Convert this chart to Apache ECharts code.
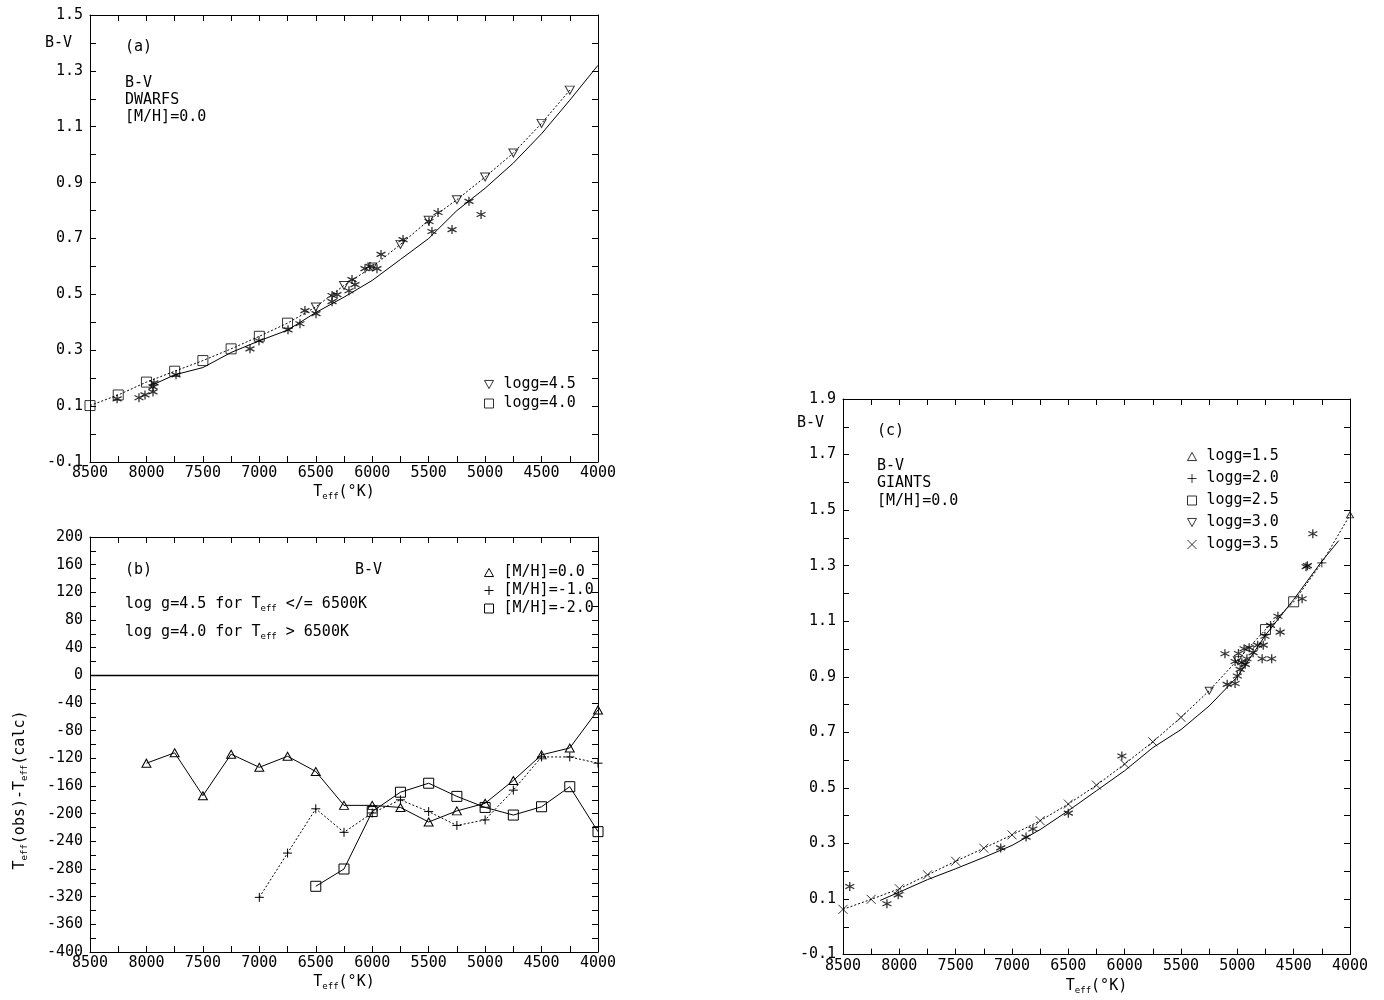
<!DOCTYPE html>
<html>
<head>
<meta charset="utf-8">
<script src="https://cdn.jsdelivr.net/npm/echarts@6/dist/echarts.min.js"></script>
<style>
html, body { margin: 0; padding: 0; background: #fff; }
#main { width: 1384px; height: 1000px; }
</style>
</head>
<body>
<div id="main"></div>
<script>
// (a) dwarfs: model track (dotted), logg per point
var aDotT = [8500, 8250, 8000, 7750, 7500, 7250, 7000, 6750, 6500, 6250, 6000, 5750, 5500, 5250, 5000, 4750, 4500, 4250];
var aDotV = [0.102, 0.14, 0.186, 0.225, 0.263, 0.305, 0.35, 0.397, 0.455, 0.532, 0.598, 0.679, 0.765, 0.839, 0.92, 1.006, 1.112, 1.231];
var aDotLogg = [4.0, 4.0, 4.0, 4.0, 4.0, 4.0, 4.0, 4.0, 4.5, 4.5, 4.5, 4.5, 4.5, 4.5, 4.5, 4.5, 4.5, 4.5];
// (a) solid relation
var aSolidT = [7950, 7750, 7500, 7250, 7000, 6750, 6500, 6250, 6000, 5750, 5500, 5250, 5000, 4750, 4500, 4250, 4000];
var aSolidV = [0.175, 0.212, 0.238, 0.292, 0.334, 0.372, 0.435, 0.49, 0.55, 0.625, 0.70, 0.80, 0.88, 0.97, 1.075, 1.195, 1.32];
// (a) observed stars
var aObsT = [8260, 8066, 8013, 7942, 7942, 7933, 7738, 7083, 7003, 6746, 6640, 6596, 6498, 6356, 6356, 6312, 6206, 6179, 6153, 6064, 6020, 5958, 5922, 5727, 5497, 5471, 5417, 5293, 5143, 5036];
var aObsV = [0.126, 0.130, 0.140, 0.151, 0.169, 0.183, 0.212, 0.305, 0.334, 0.373, 0.395, 0.442, 0.431, 0.496, 0.474, 0.499, 0.513, 0.553, 0.535, 0.592, 0.600, 0.592, 0.643, 0.696, 0.761, 0.725, 0.793, 0.732, 0.833, 0.786];

// (b) residuals
var bT0 = [8000, 7750, 7500, 7250, 7000, 6750, 6500, 6250, 6000, 5750, 5500, 5250, 5000, 4750, 4500, 4250, 4000];
var bV0 = [-127, -112, -174, -114, -133, -117, -139, -188, -188, -191, -212, -196, -185, -152, -115, -105, -50];
var bT1 = [7000, 6750, 6500, 6250, 6000, 5750, 5500, 5250, 5000, 4750, 4500, 4250, 4000];
var bV1 = [-321, -257, -193, -227, -199, -180, -197, -217, -209, -166, -118, -118, -127];
var bT2 = [6500, 6250, 6000, 5750, 5500, 5250, 5000, 4750, 4500, 4250, 4000];
var bV2 = [-305, -280, -197, -169, -156, -175, -191, -202, -190, -161, -226];

// (c) giants
var cDotT = [8500, 8250, 8000, 7750, 7500, 7250, 7000, 6750, 6500, 6250, 6000, 5750, 5500, 5250, 5000, 4750, 4500, 4250, 4000];
var cDotV = [0.063, 0.099, 0.137, 0.187, 0.236, 0.283, 0.331, 0.382, 0.442, 0.51, 0.586, 0.666, 0.754, 0.85, 0.96, 1.07, 1.17, 1.31, 1.483];
var cDotLogg = [3.5, 3.5, 3.5, 3.5, 3.5, 3.5, 3.5, 3.5, 3.5, 3.5, 3.5, 3.5, 3.5, 3.0, 3.0, 2.5, 2.5, 2.0, 1.5];
var cSolidT = [8170, 8000, 7750, 7500, 7250, 7000, 6750, 6500, 6250, 6000, 5750, 5500, 5250, 5000, 4750, 4500, 4250, 4100];
var cSolidV = [0.095, 0.125, 0.17, 0.209, 0.25, 0.293, 0.35, 0.418, 0.49, 0.562, 0.645, 0.71, 0.795, 0.90, 1.05, 1.178, 1.316, 1.39];
var cObsT = [8440, 8110, 8010, 7100, 6875, 6815, 6500, 6025, 5110, 5090, 5020, 5000, 4975, 5020, 4960, 4930, 4990, 4940, 4895, 4860, 4915, 4820, 4770, 4780, 4695, 4755, 4705, 4640, 4620, 4425, 4390, 4378, 4330];
var cObsV = [0.145, 0.083, 0.115, 0.284, 0.323, 0.352, 0.409, 0.615, 0.983, 0.873, 0.876, 0.903, 0.927, 0.955, 0.951, 0.945, 0.984, 1.001, 1.005, 0.987, 0.965, 1.014, 1.014, 0.965, 0.965, 1.046, 1.085, 1.118, 1.061, 1.181, 1.296, 1.30, 1.415];

var FONT = 'DejaVu Sans Mono';
var SYM_AST = 'path://M5,0L5,10M0.67,2.5L9.33,7.5M0.67,7.5L9.33,2.5';
var SYM_PLUS = 'path://M5,0L5,10M0,5L10,5';
var SYM_CROSS = 'path://M0,0L10,10M0,10L10,0';
var SYM_TRI_UP = 'path://M5,0L10,9L0,9Z';
var SYM_TRI_DN = 'path://M0,0L10,0L5,9Z';
var SYM_SQ = 'path://M0,0L10,0L10,10L0,10Z';
var open = { color: 'none', borderColor: '#000', borderWidth: 1 };

function pairs(t, v) {
    return t.map(function (x, i) { return [x, v[i]]; });
}
function pick(t, v, g, want) {
    var out = [];
    t.forEach(function (x, i) { if (g[i] === want) out.push([x, v[i]]); });
    return out;
}
var sub = {
    n: { fontFamily: FONT, fontSize: 15, color: '#000', lineHeight: 18 },
    s: { fontFamily: FONT, fontSize: 9, color: '#000', lineHeight: 9, verticalAlign: 'bottom' }
};

function xAx(gi, top) {
    return {
        gridIndex: gi, type: 'value', position: top ? 'top' : 'bottom',
        min: 4000, max: 8500, interval: 250, inverse: true,
        axisLine: { show: true, onZero: false, lineStyle: { color: '#000', width: 1 } },
        axisTick: { show: true, inside: true, length: 6, lineStyle: { color: '#000' } },
        splitLine: { show: false },
        axisLabel: top ? { show: false } : {
            show: true, margin: 4, fontFamily: FONT, fontSize: 15, color: '#000',
            formatter: function (v) { return v % 500 === 0 ? String(v) : ''; }
        },
        name: top ? '' : '{n|T}{s|eff}{n|(°K)}',
        nameLocation: 'middle', nameGap: 21,
        nameTextStyle: { rich: sub }
    };
}
function yAx(gi, right, min, max, step, fmt) {
    return {
        gridIndex: gi, type: 'value', position: right ? 'right' : 'left',
        min: min, max: max, interval: step,
        axisLine: { show: true, onZero: false, lineStyle: { color: '#000', width: 1 } },
        axisTick: { show: true, inside: true, length: 6, lineStyle: { color: '#000' } },
        splitLine: { show: false },
        axisLabel: right ? { show: false } : {
            show: true, margin: 7, fontFamily: FONT, fontSize: 15, color: '#000', formatter: fmt
        }
    };
}
function oddTenths(v) {
    var k = Math.round(v * 10);
    return k % 2 !== 0 ? (k / 10).toFixed(1) : '';
}
function every40(v) {
    var k = Math.round(v);
    return k % 40 === 0 ? String(k) : '';
}
function label(text, x, y, size) {
    return {
        type: 'text', x: x, y: y, silent: true,
        style: { text: text, fontFamily: FONT, fontSize: size || 15, fill: '#000', verticalAlign: 'middle', rich: sub }
    };
}
function legend(names, left, top, gap) {
    return {
        data: names, left: left, top: top, orient: 'vertical', itemGap: gap,
        itemWidth: 9, itemHeight: 9, selectedMode: false,
        itemStyle: { color: 'none', borderColor: '#000', borderWidth: 1 },
        lineStyle: { width: 0 },
        textStyle: { fontFamily: FONT, fontSize: 15, color: '#000', padding: [0, 0, 0, 5] }
    };
}

var chart = echarts.init(document.getElementById('main'));
var option = {
    backgroundColor: '#fff',
    animation: false,
    grid: [
        { left: 90, top: 15, width: 508, height: 447 },
        { left: 90, top: 537, width: 508, height: 415 },
        { left: 843, top: 399, width: 507, height: 557 }
    ],
    xAxis: [xAx(0), xAx(1), xAx(2), xAx(0, true), xAx(1, true), xAx(2, true)],
    yAxis: [
        yAx(0, false, -0.1, 1.5, 0.1, oddTenths),
        yAx(1, false, -400, 200, 20, every40),
        yAx(2, false, -0.1, 1.9, 0.1, oddTenths),
        yAx(0, true, -0.1, 1.5, 0.1),
        yAx(1, true, -400, 200, 20),
        yAx(2, true, -0.1, 1.9, 0.1)
    ],
    legend: [
        legend(['logg=4.5', 'logg=4.0'], 477, 372, 4),
        legend([
            { name: '[M/H]=0.0', icon: SYM_TRI_UP },
            { name: '[M/H]=-1.0', icon: SYM_PLUS },
            { name: '[M/H]=-2.0', icon: SYM_SQ }
        ], 477, 560, 3),
        legend(['logg=1.5', 'logg=2.0', 'logg=2.5', 'logg=3.0', 'logg=3.5'], 1180, 444, 7)
    ],
    graphic: [
        label('B-V', 45, 43),
        label('(a)', 125, 47),
        label('B-V', 125, 83),
        label('DWARFS', 125, 100),
        label('[M/H]=0.0', 125, 117),
        label('(b)', 125, 570),
        label('B-V', 355, 570),
        label('{n|log g=4.5 for T}{s|eff}{n| </= 6500K}', 125, 604),
        label('{n|log g=4.0 for T}{s|eff}{n| > 6500K}', 125, 632),
        {
            type: 'text', x: 20, y: 790, rotation: Math.PI / 2, silent: true,
            style: {
                text: '{n|T}{s|eff}{n|(obs)-T}{s|eff}{n|(calc)}', align: 'center', verticalAlign: 'middle',
                rich: {
                    n: { fontFamily: FONT, fontSize: 15, color: '#000', lineHeight: 18 },
                    s: { fontFamily: FONT, fontSize: 9, color: '#000', lineHeight: 9, verticalAlign: 'bottom' }
                }
            }
        },
        label('B-V', 797, 423),
        label('(c)', 877, 431),
        label('B-V', 877, 466),
        label('GIANTS', 877, 483),
        label('[M/H]=0.0', 877, 501)
    ],
    series: [
        // (a)
        { type: 'line', name: 'a-solid', xAxisIndex: 0, yAxisIndex: 0, data: pairs(aSolidT, aSolidV),
          showSymbol: false, lineStyle: { color: '#000', width: 1 } },
        { type: 'line', name: 'a-dot', xAxisIndex: 0, yAxisIndex: 0, data: pairs(aDotT, aDotV),
          showSymbol: false, lineStyle: { color: '#000', width: 1, type: [2, 2] } },
        { type: 'scatter', name: 'logg=4.5', xAxisIndex: 0, yAxisIndex: 0, data: pick(aDotT, aDotV, aDotLogg, 4.5),
          symbol: SYM_TRI_DN, symbolSize: [9, 8], itemStyle: open },
        { type: 'scatter', name: 'logg=4.0', xAxisIndex: 0, yAxisIndex: 0, data: pick(aDotT, aDotV, aDotLogg, 4.0),
          symbol: SYM_SQ, symbolSize: 10, itemStyle: open },
        { type: 'scatter', name: 'a-obs', xAxisIndex: 0, yAxisIndex: 0, data: pairs(aObsT, aObsV),
          symbol: SYM_AST, symbolSize: 9, itemStyle: { color: 'none', borderColor: '#000', borderWidth: 1.3 } },
        // (b)
        { type: 'line', name: '[M/H]=0.0', xAxisIndex: 1, yAxisIndex: 1, data: pairs(bT0, bV0),
          symbol: SYM_TRI_UP, symbolSize: [9, 8], itemStyle: open, lineStyle: { color: '#000', width: 1 },
          markLine: { silent: true, symbol: ['none', 'none'], label: { show: false },
                      lineStyle: { color: '#000', type: 'solid', width: 1.3 }, data: [{ yAxis: 0 }] } },
        { type: 'line', name: '[M/H]=-1.0', xAxisIndex: 1, yAxisIndex: 1, data: pairs(bT1, bV1),
          symbol: SYM_PLUS, symbolSize: 9, itemStyle: open, lineStyle: { color: '#000', width: 1, type: [2, 2] } },
        { type: 'line', name: '[M/H]=-2.0', xAxisIndex: 1, yAxisIndex: 1, data: pairs(bT2, bV2),
          symbol: SYM_SQ, symbolSize: 10, itemStyle: open, lineStyle: { color: '#000', width: 1 } },
        // (c)
        { type: 'line', name: 'c-solid', xAxisIndex: 2, yAxisIndex: 2, data: pairs(cSolidT, cSolidV),
          showSymbol: false, lineStyle: { color: '#000', width: 1 } },
        { type: 'line', name: 'c-dot', xAxisIndex: 2, yAxisIndex: 2, data: pairs(cDotT, cDotV),
          showSymbol: false, lineStyle: { color: '#000', width: 1, type: [2, 2] } },
        { type: 'scatter', name: 'logg=1.5', xAxisIndex: 2, yAxisIndex: 2, data: pick(cDotT, cDotV, cDotLogg, 1.5),
          symbol: SYM_TRI_UP, symbolSize: [7, 6], itemStyle: open },
        { type: 'scatter', name: 'logg=2.0', xAxisIndex: 2, yAxisIndex: 2, data: pick(cDotT, cDotV, cDotLogg, 2.0),
          symbol: SYM_PLUS, symbolSize: 9, itemStyle: open },
        { type: 'scatter', name: 'logg=2.5', xAxisIndex: 2, yAxisIndex: 2, data: pick(cDotT, cDotV, cDotLogg, 2.5),
          symbol: SYM_SQ, symbolSize: 10, itemStyle: open },
        { type: 'scatter', name: 'logg=3.0', xAxisIndex: 2, yAxisIndex: 2, data: pick(cDotT, cDotV, cDotLogg, 3.0),
          symbol: SYM_TRI_DN, symbolSize: [8, 7], itemStyle: open },
        { type: 'scatter', name: 'logg=3.5', xAxisIndex: 2, yAxisIndex: 2, data: pick(cDotT, cDotV, cDotLogg, 3.5),
          symbol: SYM_CROSS, symbolSize: 9, itemStyle: open },
        { type: 'scatter', name: 'c-obs', xAxisIndex: 2, yAxisIndex: 2, data: pairs(cObsT, cObsV),
          symbol: SYM_AST, symbolSize: 9, itemStyle: { color: 'none', borderColor: '#000', borderWidth: 1.3 } }
    ]
};
chart.setOption(option);
</script>
</body>
</html>
